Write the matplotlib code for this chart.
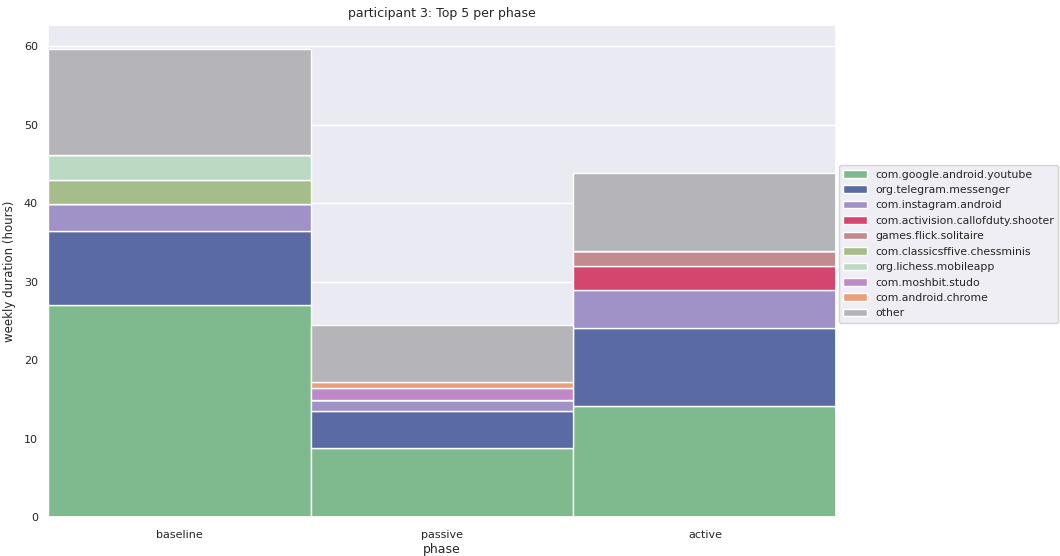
import matplotlib
matplotlib.use("Agg")
import matplotlib.pyplot as plt
import seaborn as sns
import numpy as np

sns.set_theme(style="darkgrid")
plt.rcParams['font.family'] = ['DejaVu Sans']

phases = ["baseline", "passive", "active"]
apps = [
    "com.google.android.youtube",
    "org.telegram.messenger",
    "com.instagram.android",
    "com.activision.callofduty.shooter",
    "games.flick.solitaire",
    "com.classicsffive.chessminis",
    "org.lichess.mobileapp",
    "com.moshbit.studo",
    "com.android.chrome",
    "other",
]
# weekly hours per app, per phase (baseline, passive, active)
youtube = [27.0, 8.8, 14.1]
telegram = [9.4, 4.7, 10.0]
instagram = [3.5, 1.4, 4.8]
callofduty = [0.0, 0.0, 3.1]
solitaire = [0.0, 0.0, 1.9]
chessminis = [3.1, 0.0, 0.0]
lichess = [3.1, 0.0, 0.0]
studo = [0.0, 1.5, 0.0]
chrome = [0.0, 0.8, 0.0]
other = [13.5, 7.3, 10.0]

series = [youtube, telegram, instagram, callofduty, solitaire,
          chessminis, lichess, studo, chrome, other]
colors = ["#7fba8f", "#5a6aa2", "#a091c7", "#d5466f", "#c48a8d",
          "#a5bd8b", "#bbdac4", "#bf88c8", "#e8a07a", "#b5b5b9"]

fig, ax = plt.subplots(figsize=(10.6, 5.56), dpi=100)
fig.subplots_adjust(left=0.045, right=0.789, top=0.955, bottom=0.07)

x = np.arange(len(phases))
bottom = np.zeros(len(phases))
for name, vals, col in zip(apps, series, colors):
    vals = np.array(vals, dtype=float)
    ax.bar(x, vals, width=1.0, bottom=bottom, color=col, edgecolor="white",
           linewidth=1.0, label=name)
    bottom += vals

ax.set_xlim(-0.5, 2.5)
ax.set_ylim(0, 62.7)
ax.set_xticks(x)
ax.set_xticklabels(phases, fontsize=8)
ax.xaxis.grid(False)
ax.tick_params(axis="y", labelsize=8, pad=1)
ax.set_xlabel("phase", fontsize=9, labelpad=2)
ax.set_ylabel("weekly duration (hours)", fontsize=8.5, labelpad=6)
ax.set_title("participant 3: Top 5 per phase", fontsize=9)

ax.legend(loc="center left", bbox_to_anchor=(1.0, 0.555), fontsize=7.8,
          frameon=True, borderaxespad=0.2, handlelength=2.2)

fig.savefig("out.png", dpi=100)
